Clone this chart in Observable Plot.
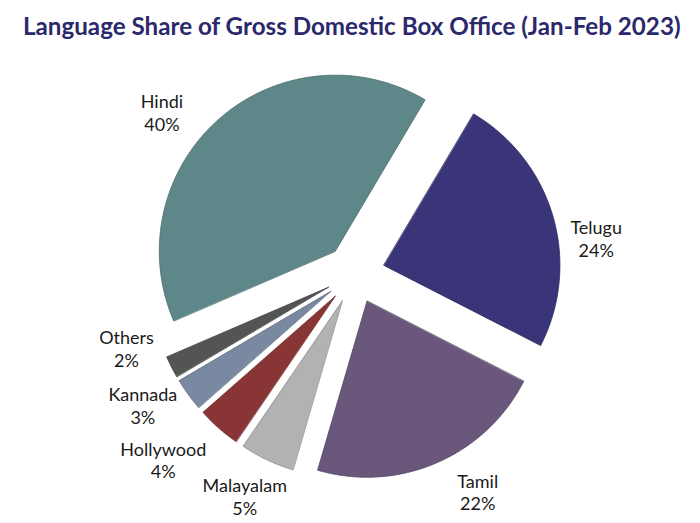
<!DOCTYPE html>
<html>
<head>
<meta charset="utf-8">
<script src="https://cdn.jsdelivr.net/npm/d3@7"></script>
<script src="https://cdn.jsdelivr.net/npm/@observablehq/plot@0.6"></script>
<style>
  html, body { margin: 0; padding: 0; background: #ffffff; }
  #wrap { width: 700px; height: 523px; position: relative; overflow: hidden; }
  #titlebox { height: 50px; position: relative; }
  #title { position: absolute; left: 23px; top: 14px;
           font-family: Lato, "Open Sans", sans-serif; font-weight: 700; color: #2b286c;
           font-size: 24px; white-space: nowrap; line-height: 1; transform-origin: 0 0; }
  svg { display: block; }
</style>
</head>
<body>
<div id="wrap">
  <div id="titlebox"><div id="title">Language Share of Gross Domestic Box Office (Jan-Feb 2023)</div></div>
  <div id="chart"></div>
</div>
<script>
// ---- data ----
const languages = ["Telugu", "Tamil", "Malayalam", "Hollywood", "Kannada", "Others", "Hindi"];
const shares = [24, 22, 5, 4, 3, 2, 40];
const sliceColors = ["#3a3578", "#6a587c", "#b1b2b2", "#8a3535", "#7a89a2", "#535555", "#5e878a"];

// ---- layout (not data) ----
const W = 700, H = 473;
const center = [354.6, 223.2];
const radius = 176;
const explode = 30;
const startDeg = 30.7;
// label placement relative to pie center: [angle from north clockwise, distance]
const labelLayout = {
  Hindi: [308.9, 248.2], Telugu: [83.0, 242.9], Tamil: [151.3, 255.4],
  Malayalam: [205.8, 253.4], Hollywood: [225.0, 271.3], Kannada: [237.1, 252.8], Others: [250.6, 242.4]
};
const labelFont = 18;

// fit title width by horizontal scaling
(function () {
  const el = document.getElementById("title");
  const c = document.createElement("canvas").getContext("2d");
  c.font = "700 24px Lato";
  const w = c.measureText(el.textContent).width;
  el.style.transform = `scaleX(${(658 / w).toFixed(4)})`;
})();

const rows = languages.map((name, i) => ({name, share: shares[i], color: sliceColors[i]}));
const pie = d3.pie().sort(null).value(d => d.share)
  .startAngle(startDeg * Math.PI / 180).endAngle(startDeg * Math.PI / 180 + 2 * Math.PI);
const arcs = pie(rows);

const pt = (cx, cy, a, r) => [cx + r * Math.sin(a), cy - r * Math.cos(a)];

const slices = arcs.map(a => {
  const mid = (a.startAngle + a.endAngle) / 2;
  const [ox, oy] = pt(center[0], center[1], mid, explode);
  const ring = [[ox, oy]];
  const n = Math.max(8, Math.ceil((a.endAngle - a.startAngle) / 0.01));
  for (let k = 0; k <= n; k++) {
    const t = a.startAngle + (a.endAngle - a.startAngle) * k / n;
    ring.push(pt(ox, oy, t, radius));
  }
  ring.push([ox, oy]);
  return {
    name: a.data.name,
    color: a.data.color,
    stroke: d3.color(a.data.color).darker(0.7).formatHex(),
    geom: {type: "Polygon", coordinates: [ring.reverse()]}
  };
});

const labels = arcs.map(a => {
  const [ang, dist] = labelLayout[a.data.name];
  const [x, y] = pt(center[0], center[1], ang * Math.PI / 180, dist);
  return {x, y, text: `${a.data.name}\n${a.data.share}%`};
});

const chart = Plot.plot({
  width: W,
  height: H,
  margin: 0,
  projection: {type: "identity", domain: {type: "MultiPoint", coordinates: [[0, 0], [W, H]]}},
  color: {type: "identity"},
  style: {background: "#ffffff"},
  marks: [
    Plot.geo(slices, {geometry: d => d.geom, fill: d => d.color, stroke: d => d.stroke, strokeWidth: 0.8}),
    Plot.text(labels, {
      x: "x", y: "y", text: "text",
      fontSize: labelFont, fontFamily: "Lato, 'Open Sans', sans-serif",
      fill: "#1a1a1a", lineHeight: 22.5 / labelFont, lineAnchor: "middle",
      dy: -0.32 * labelFont
    })
  ]
});
document.getElementById("chart").appendChild(chart);
</script>
</body>
</html>
